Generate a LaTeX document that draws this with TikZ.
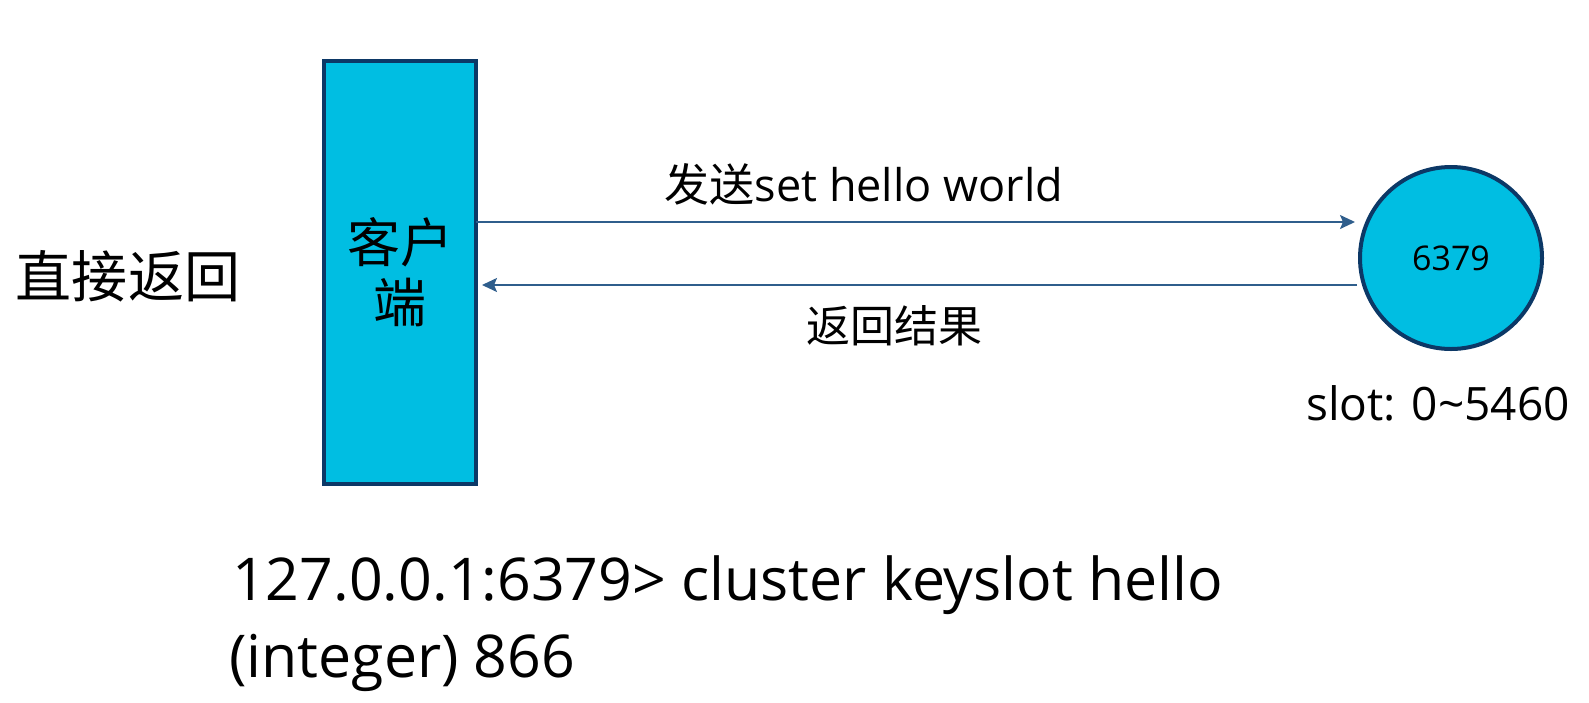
\documentclass[tikz,border=0pt]{standalone}
\usepackage{fontspec}
\setmainfont{Open Sans}
\newfontfamily\cjk{Noto Sans CJK SC}
\usepackage{tikz}
\usetikzlibrary{positioning,calc,arrows.meta}
\definecolor{nodefill}{RGB}{0,190,226}
\definecolor{nodeline}{RGB}{12,56,102}
\definecolor{flowline}{RGB}{47,94,140}

\begin{document}
\begin{tikzpicture}[x=1pt,y=-1pt,
    box/.style={draw=nodeline, fill=nodefill, line width=4pt, inner sep=0pt, outer sep=0pt},
    flow/.style={draw=flowline, line width=1.8pt, -{Stealth[length=15pt,width=14pt,inset=3pt]}}]
    \useasboundingbox (0,0) rectangle (1589,702);

    % Client
    \node[box, minimum width=152pt, minimum height=423pt, align=center,
        font=\cjk\fontsize{53}{60}\selectfont] (client) at (400,272.5) {客户\\端};
    \node[font=\cjk\fontsize{56}{56}\selectfont] (direct) at (128,276) {直接返回};

    % Server
    \node[box, circle, minimum size=182pt, font=\fontsize{34}{34}\selectfont] (server) at (1451,258) {6379};
    \node[anchor=base, font=\fontsize{46}{46}\selectfont] (slot) at (1438,420) {slot: 0\textasciitilde5460};

    % Request / reply
    \coordinate (send) at (0,222);
    \coordinate (reply) at (0,285);
    \draw[flow, shorten >=5pt] (client.east |- send) -- (server.west |- send);
    \draw[flow, shorten <=3pt, shorten >=6pt] (server.west |- reply) -- (client.east |- reply);
    \node[font=\fontsize{45}{45}\selectfont] (sendlbl) at (864,184) {{\cjk 发送}set hello world};
    \node[font=\cjk\fontsize{44}{44}\selectfont] (replylbl) at (894,326) {返回结果};

    % Command
    \node[anchor=base west, inner sep=0pt, font=\fontsize{59}{59}\selectfont] (cmd) at (232,600) {127.0.0.1:6379> cluster keyslot hello};
    \node[anchor=base west, inner sep=0pt, font=\fontsize{59}{59}\selectfont] (res) at (229,677) {(integer) 866};
\end{tikzpicture}
\end{document}
